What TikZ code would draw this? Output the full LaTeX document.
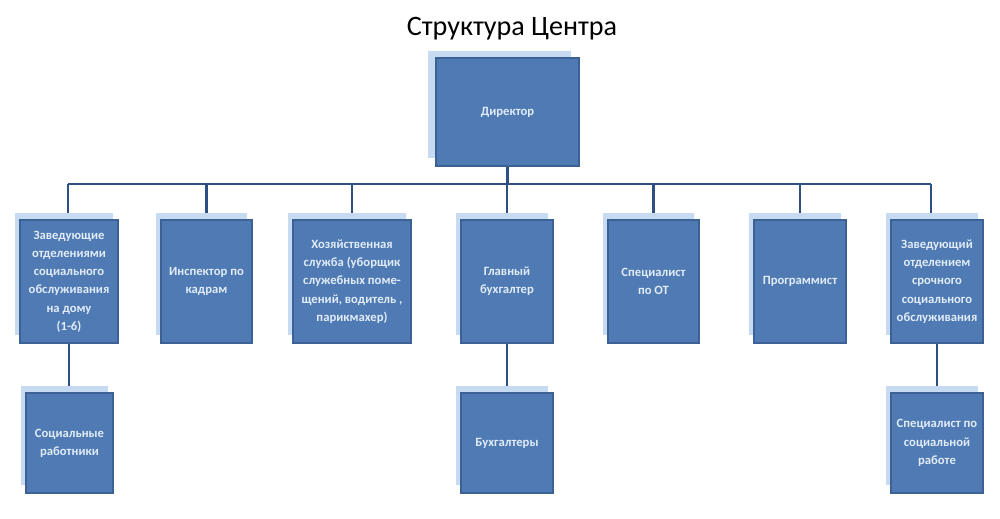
\documentclass[tikz,border=0pt]{standalone}
\usepackage{fontspec}
\setmainfont{Carlito}
\usetikzlibrary{shadows,backgrounds}
\definecolor{boxblue}{HTML}{4F7AB3}
\definecolor{boxedge}{HTML}{3B6195}
\definecolor{boxpale}{HTML}{C6DAF1}
\definecolor{linkblue}{HTML}{2E4F82}
\definecolor{boxtext}{HTML}{E1ECF8}
\tikzset{
  unit/.style={draw=boxedge,line width=0.6pt,fill=boxblue,text=boxtext,
    font=\fontsize{7.2}{10.4}\selectfont\bfseries,align=center,inner sep=1pt,
    minimum width=1.84cm,minimum height=2.46cm},
  lowunit/.style={unit,minimum height=2cm},
  pale/.style={copy shadow={shadow xshift=#1,shadow yshift=0.15cm,fill=boxpale,draw=none}},
  pale/.default=-0.1cm,
  link/.style={draw=linkblue,line width=1.25pt}
}

\begin{document}
\begin{tikzpicture}[x=0.02cm,y=-0.02cm]
\useasboundingbox (0,0) rectangle (1000,519);
\node (title) at (512,29) {\fontsize{16}{18}\selectfont Структура Центра};
\node[unit,pale=-0.16cm,minimum width=2.86cm,minimum height=2.16cm] (dir) at (507.5,112) {Директор};
% first row
\node[unit,pale,minimum width=1.96cm] (zavdom) at (69,281.5) {Заведующие\\отделениями\\социального\\обслуживания\\на дому\\(1-6)};
\node[unit,pale,minimum width=1.82cm] (insp) at (206.5,281.5) {Инспектор по\\кадрам};
\node[unit,pale,minimum width=2.36cm] (hoz) at (352,281.5) {Хозяйственная\\служба (уборщик\\служебных поме-\\щений, водитель ,\\парикмахер)};
\node[unit,pale] (glbuh) at (507,281.5) {Главный\\бухгалтер};
\node[unit,pale,minimum width=1.82cm] (ot) at (653.5,281.5) {Специалист\\по ОТ};
\node[unit,pale] (prog) at (800,281.5) {Программист};
\node[unit,pale] (zavsr) at (937,281.5) {Заведующий\\отделением\\срочного\\социального\\обслуживания};
% second row
\node[lowunit,pale,minimum width=1.74cm] (socrab) at (69.5,443) {Социальные\\работники};
\node[lowunit,pale] (buh) at (507,443) {Бухгалтеры};
\node[lowunit,pale] (spec) at (937,443) {Специалист по\\социальной\\работе};
\coordinate (busL) at (68,184);
\coordinate (busR) at (931,184);
\begin{scope}[on background layer]
\draw[link] (busL) -- (busR);
\draw[link] (dir.south) -- (dir.south |- busL);
\draw[link] (busL) -- (busL |- zavdom.north);
\draw[link] (insp.north) -- (insp.north |- busL);
\draw[link] (hoz.north) -- (hoz.north |- busL);
\draw[link] (glbuh.north) -- (glbuh.north |- busL);
\draw[link] (ot.north) -- (ot.north |- busL);
\draw[link] (prog.north) -- (prog.north |- busL);
\draw[link] (busR) -- (busR |- zavsr.north);
\draw[link] (zavdom.south) -- (zavdom.south |- socrab.north);
\draw[link] (glbuh.south) -- (glbuh.south |- buh.north);
\draw[link] (zavsr.south) -- (zavsr.south |- spec.north);
\end{scope}
\end{tikzpicture}
\end{document}
